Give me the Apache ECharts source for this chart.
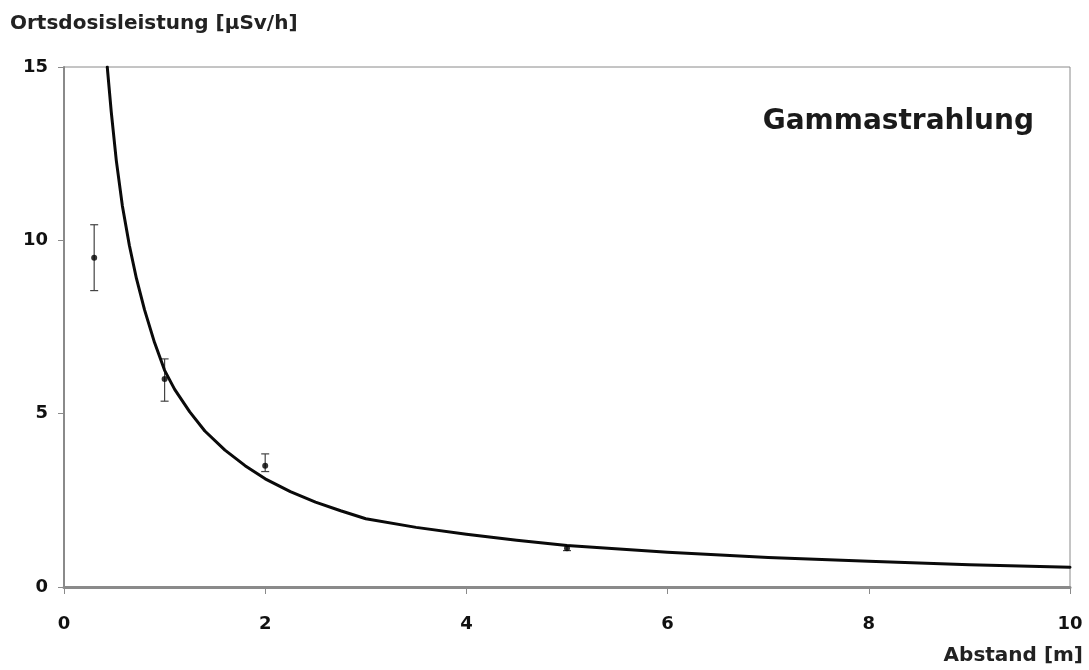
<!DOCTYPE html>
<html>
<head>
<meta charset="utf-8">
<script src="https://cdn.jsdelivr.net/npm/echarts@6/dist/echarts.min.js"></script>
<style>
html,body{margin:0;padding:0;background:#fff;}
#c{width:1089px;height:670px;}
</style>
</head>
<body>
<div id="c"></div>
<script>
// Fitted curve
const curveX = [0.43, 0.47, 0.52, 0.58, 0.65, 0.72, 0.8, 0.9, 1.0, 1.1, 1.25, 1.4, 1.6, 1.8, 2.0, 2.25, 2.5, 2.75, 3.0, 3.5, 4, 4.5, 5, 6, 7, 8, 9, 10];
const curveY = [15, 13.7, 12.3, 11.0, 9.85, 8.9, 8.0, 7.05, 6.25, 5.7, 5.05, 4.5, 3.95, 3.5, 3.12, 2.75, 2.45, 2.2, 1.97, 1.72, 1.52, 1.35, 1.2, 1.0, 0.85, 0.74, 0.64, 0.57];
// Measurements
const measX = [0.3, 1, 2, 5];
const measY = [9.5, 6.0, 3.5, 1.12];
const errLow = [8.55, 5.36, 3.33, 1.05];
const errHigh = [10.45, 6.58, 3.84, 1.2];
const xTicks = [0, 2, 4, 6, 8, 10];
const yTicks = [0, 5, 10, 15];

const FONT = 'DejaVu Sans';
const chart = echarts.init(document.getElementById('c'), null, {renderer: 'canvas'});

const curveData = curveX.map((x, i) => [x, curveY[i]]);
const measData = measX.map((x, i) => [x, measY[i]]);
const errData = measX.map((x, i) => [x, errLow[i], errHigh[i]]);

chart.setOption({
  animation: false,
  backgroundColor: '#fff',
  grid: {left: 64, right: 19, top: 67, bottom: 83, show: true, borderColor: '#8a8a8a', borderWidth: 1, backgroundColor: 'transparent'},
  xAxis: {
    type: 'value', min: xTicks[0], max: xTicks[xTicks.length - 1], interval: 2,
    axisLine: {show: true, lineStyle: {color: '#8a8a8a', width: 3}},
    axisTick: {show: true, length: 7, inside: false, lineStyle: {color: '#8a8a8a', width: 1}},
    splitLine: {show: false},
    axisLabel: {color: '#111', fontFamily: FONT, fontWeight: 'bold', fontSize: 18, margin: 28}
  },
  yAxis: {
    type: 'value', min: yTicks[0], max: yTicks[yTicks.length - 1], interval: 5,
    axisLine: {show: true, lineStyle: {color: '#8a8a8a', width: 2}},
    axisTick: {show: true, length: 6, inside: false, lineStyle: {color: '#8a8a8a', width: 1}},
    splitLine: {show: false},
    axisLabel: {color: '#111', fontFamily: FONT, fontWeight: 'bold', fontSize: 18, margin: 16}
  },
  graphic: [
    {type: 'text', left: 10, top: 14, style: {text: 'Ortsdosisleistung [µSv/h]', font: 'bold 20px "DejaVu Sans"', fill: '#222'}},
    {type: 'text', right: 1089 - 1083, top: 646, style: {text: 'Abstand [m]', font: 'bold 20px "DejaVu Sans"', fill: '#222'}},
    {type: 'text', right: 1089 - 1034, top: 108, style: {text: 'Gammastrahlung', font: 'bold 28px "DejaVu Sans"', fill: '#1a1a1a'}}
  ],
  series: [
    {
      type: 'custom',
      data: errData,
      z: 3,
      renderItem: function (params, api) {
        const x = api.value(0);
        const lo = api.coord([x, api.value(1)]);
        const hi = api.coord([x, api.value(2)]);
        const w = 4;
        const st = {stroke: '#444', lineWidth: 1.2};
        return {
          type: 'group',
          children: [
            {type: 'line', shape: {x1: lo[0], y1: lo[1], x2: hi[0], y2: hi[1]}, style: st},
            {type: 'line', shape: {x1: lo[0] - w, y1: lo[1], x2: lo[0] + w, y2: lo[1]}, style: st},
            {type: 'line', shape: {x1: hi[0] - w, y1: hi[1], x2: hi[0] + w, y2: hi[1]}, style: st}
          ]
        };
      }
    },
    {
      type: 'line',
      data: curveData,
      smooth: false,
      showSymbol: false,
      symbol: 'none',
      lineStyle: {color: '#0a0a0a', width: 3, join: 'round', cap: 'round'},
      z: 4
    },
    {
      type: 'scatter',
      data: measData,
      symbol: 'circle',
      symbolSize: 6,
      itemStyle: {color: '#000'},
      z: 5
    }
  ]
});
</script>
</body>
</html>
